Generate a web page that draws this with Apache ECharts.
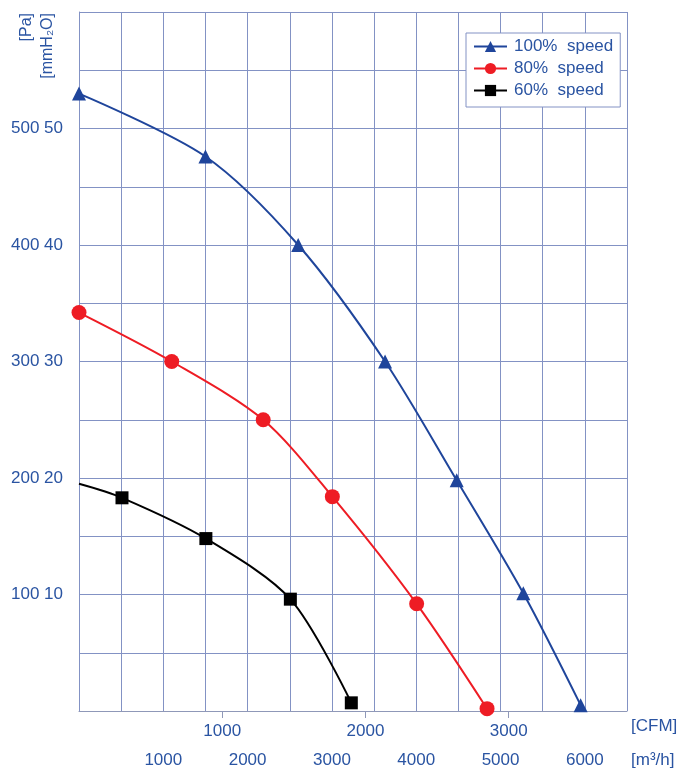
<!DOCTYPE html>
<html>
<head>
<meta charset="utf-8">
<script src="https://cdn.jsdelivr.net/npm/echarts@6/dist/echarts.min.js"></script>
<style>html,body{margin:0;padding:0;background:#fff;}#c{width:695px;height:771px;}</style>
</head>
<body>
<div id="c"></div>
<script>
// ---- data (x in m³/h, y in Pa) ----
const seriesNames = ['100%  speed', '80%  speed', '60%  speed'];
const flow100 = [0, 1500, 2600, 3630, 4480, 5270, 5950];
const pa100   = [530, 476, 400, 300, 198, 101, 5];
const flow80  = [0, 1100, 2185, 3005, 4005, 4840];
const pa80    = [342, 300, 250, 184, 92, 2];
const flow60  = [0, 510, 1505, 2507, 3230];
const pa60    = [195, 183, 148, 96, 7];
// tick labels
const m3hTicks = [1000, 2000, 3000, 4000, 5000, 6000];
const cfmTicks = [1000, 2000, 3000];
const paTicks  = [100, 200, 300, 400, 500];
const mmTicks  = [10, 20, 30, 40, 50];
const M3H_PER_CFM = 1.699;

const FONT = '"Liberation Sans", Arial, sans-serif';
const TXT = '#2a54a2';
const GRID = '#8392c4';

function pairs(xs, ys, skipFirstMarker) {
  return xs.map((x, i) => (skipFirstMarker && i === 0)
    ? { value: [x, ys[i]], symbol: 'none' }
    : [x, ys[i]]);
}

const chart = echarts.init(document.getElementById('c'), null, { renderer: 'canvas' });
chart.setOption({
  animation: false,
  backgroundColor: '#fff',
  grid: { left: 79, top: 12, width: 548, height: 699, containLabel: false },
  xAxis: [
    {
      type: 'value', min: 0, max: 6500, interval: 500, position: 'bottom',
      axisLine: { show: true, lineStyle: { color: '#8f98b8', width: 1 } },
      axisTick: { show: false },
      splitLine: { show: true, lineStyle: { color: GRID, width: 1 } },
      axisLabel: {
        customValues: m3hTicks, margin: 41, color: TXT, fontSize: 17, fontFamily: FONT,
        formatter: v => String(v)
      }
    },
    {
      type: 'value', min: 0, max: 6500 / M3H_PER_CFM, position: 'bottom', offset: 0,
      axisLine: { show: false },
      axisTick: { show: true, customValues: cfmTicks, length: 7, lineStyle: { color: '#8f98b8', width: 1 } },
      splitLine: { show: false },
      axisLabel: {
        customValues: cfmTicks, margin: 12, color: TXT, fontSize: 17, fontFamily: FONT,
        formatter: v => String(v)
      }
    }
  ],
  yAxis: {
    type: 'value', min: 0, max: 600, interval: 50,
    axisLine: { show: true, lineStyle: { color: GRID, width: 1 } },
    axisTick: { show: false },
    splitLine: { show: true, lineStyle: { color: GRID, width: 1 } },
    axisLabel: {
      customValues: paTicks, margin: 16, color: TXT, fontSize: 17, fontFamily: FONT,
      formatter: v => {
        const i = paTicks.indexOf(v);
        return i >= 0 ? v + ' ' + mmTicks[i] : '';
      }
    }
  },
  legend: {
    orient: 'vertical', left: 466, top: 33,
    backgroundColor: '#fff', borderColor: GRID, borderWidth: 1,
    padding: [5, 7, 8, 7], itemGap: 5, itemWidth: 33, itemHeight: 14,
    textStyle: { color: TXT, fontSize: 17, fontFamily: FONT, padding: [0, 0, 0, 2] },
    data: seriesNames
  },
  graphic: [
    { type: 'text', left: 631, top: 718, style: { text: '[CFM]', fill: TXT, font: '17px ' + FONT } },
    { type: 'text', left: 631, top: 752, style: { text: '[m³/h]', fill: TXT, font: '17px ' + FONT } },
    { type: 'text', x: 27, y: 13, rotation: Math.PI / 2,
      style: { text: '[Pa]', fill: TXT, font: '16px ' + FONT, align: 'right', verticalAlign: 'middle' } },
    { type: 'text', x: 48, y: 13, rotation: Math.PI / 2,
      style: { text: '[mmH₂O]', fill: TXT, font: '16px ' + FONT, align: 'right', verticalAlign: 'middle' } }
  ],
  series: [
    {
      name: seriesNames[0], type: 'line', smooth: 0.3, xAxisIndex: 0,
      symbol: 'triangle', symbolSize: 14,
      lineStyle: { color: '#1f459b', width: 2 }, itemStyle: { color: '#1f459b' },
      data: pairs(flow100, pa100, false), z: 3
    },
    {
      name: seriesNames[1], type: 'line', smooth: 0.3, xAxisIndex: 0,
      symbol: 'circle', symbolSize: 15,
      lineStyle: { color: '#ee1c24', width: 2 }, itemStyle: { color: '#ee1c24' },
      data: pairs(flow80, pa80, false), z: 3
    },
    {
      name: seriesNames[2], type: 'line', smooth: 0.3, xAxisIndex: 0,
      symbol: 'rect', symbolSize: 13,
      lineStyle: { color: '#000', width: 2 }, itemStyle: { color: '#000' },
      data: pairs(flow60, pa60, true), z: 3
    }
  ]
});
</script>
</body>
</html>
